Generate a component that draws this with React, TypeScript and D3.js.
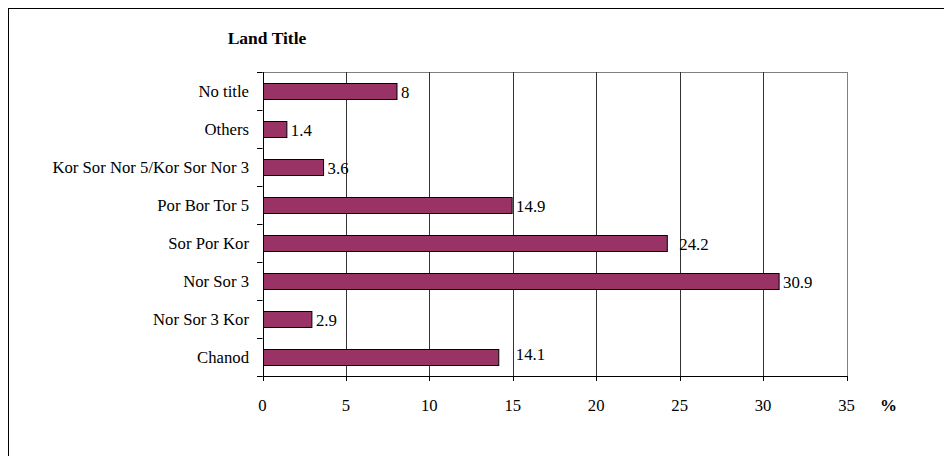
import React from "react";
import * as d3 from "d3";

const categories = [
  "No title",
  "Others",
  "Kor Sor Nor 5/Kor Sor Nor 3",
  "Por Bor Tor 5",
  "Sor Por Kor",
  "Nor Sor 3",
  "Nor Sor 3 Kor",
  "Chanod",
];
const values = [8, 1.4, 3.6, 14.9, 24.2, 30.9, 2.9, 14.1];
const xTicks = [0, 5, 10, 15, 20, 25, 30, 35];
const title = "Land Title";
const unitLabel = "%";

// small label nudges (dx, dy) as in the original layout
const labelNudge: Record<string, [number, number]> = {
  "Sor Por Kor": [8, 0],
  Chanod: [13, -4],
};

const W = 944;
const H = 456;
const plot = { left: 262.5, right: 846.5, top: 72, bottom: 376 };
const FONT = "Liberation Serif";
const BAR = "#993366";

export default function App() {
  const x = d3.scaleLinear().domain([0, 35]).range([plot.left, plot.right]);
  const y = d3
    .scaleBand<string>()
    .domain(categories)
    .range([plot.top, plot.bottom])
    .padding(0);
  const bw = y.bandwidth();
  const barH = bw * 0.42;
  const ts = { fontFamily: FONT };

  return (
    <svg
      width={W}
      height={H}
      style={{ position: "absolute", left: 0, top: 0, background: "#fff", fontFamily: FONT }}
    >
      <rect x={0} y={0} width={W} height={H} fill="#fff" />
      {/* outer frame */}
      <rect x={8.5} y={8.5} width={W + 20} height={H + 20} fill="none" stroke="#000" strokeWidth={1} />

      <text x={267} y={44} textAnchor="middle" fontWeight="bold" fontSize={17.5} fill="#000" style={ts}>
        {title}
      </text>

      {/* plot area border (top and right) */}
      <line x1={plot.left} x2={Math.round(plot.right) + 0.5} y1={plot.top + 0.5} y2={plot.top + 0.5} stroke="#808080" />
      <line x1={Math.round(plot.right) + 0.5} x2={Math.round(plot.right) + 0.5} y1={plot.top} y2={plot.bottom} stroke="#808080" />

      {/* gridlines */}
      {xTicks.slice(1, -1).map((t) => (
        <line
          key={"g" + t}
          x1={Math.round(x(t)) + 0.5}
          x2={Math.round(x(t)) + 0.5}
          y1={plot.top}
          y2={plot.bottom}
          stroke="#333"
          strokeWidth={1}
        />
      ))}

      {/* bars */}
      {categories.map((c, i) => {
        const cy = (y(c) as number) + bw / 2;
        return (
          <rect
            key={"b" + c}
            x={Math.round(x(0)) + 0.5}
            y={Math.round(cy - barH / 2) + 0.5}
            width={x(values[i]) - x(0)}
            height={Math.round(barH)}
            fill={BAR}
            stroke="#000"
            strokeWidth={1}
          />
        );
      })}

      {/* value labels */}
      {categories.map((c, i) => {
        const cy = (y(c) as number) + bw / 2;
        const n = labelNudge[c] || [0, 0];
        return (
          <text key={"v" + c} x={x(values[i]) + 5 + n[0]} y={cy + 6.5 + n[1]} fontSize={16.8} fill="#000" style={ts}>
            {values[i]}
          </text>
        );
      })}

      {/* y axis */}
      <line x1={Math.round(plot.left) + 0.5} x2={Math.round(plot.left) + 0.5} y1={plot.top} y2={plot.bottom} stroke="#000" />
      {d3.range(categories.length + 1).map((k) => {
        const yy = Math.round(plot.top + k * bw) + 0.5;
        return <line key={"yt" + k} x1={257} x2={plot.left} y1={yy} y2={yy} stroke="#000" />;
      })}
      {categories.map((c) => (
        <text
          key={"yl" + c}
          x={249}
          y={(y(c) as number) + bw / 2 + 5.7}
          textAnchor="end"
          fontSize={16.7}
          fill="#000"
          style={ts}
        >
          {c}
        </text>
      ))}

      {/* x axis */}
      <line x1={plot.left} x2={Math.round(plot.right) + 1} y1={plot.bottom + 0.5} y2={plot.bottom + 0.5} stroke="#000" />
      {xTicks.map((t) => (
        <g key={"xt" + t}>
          <line
            x1={Math.round(x(t)) + 0.5}
            x2={Math.round(x(t)) + 0.5}
            y1={plot.bottom}
            y2={plot.bottom + 5}
            stroke="#000"
          />
          <text x={x(t)} y={411} textAnchor="middle" fontSize={16.7} fill="#000" style={ts}>
            {t}
          </text>
        </g>
      ))}
      <text x={880} y={411} fontWeight="bold" fontSize={17} fill="#000" style={ts}>
        {unitLabel}
      </text>
    </svg>
  );
}
